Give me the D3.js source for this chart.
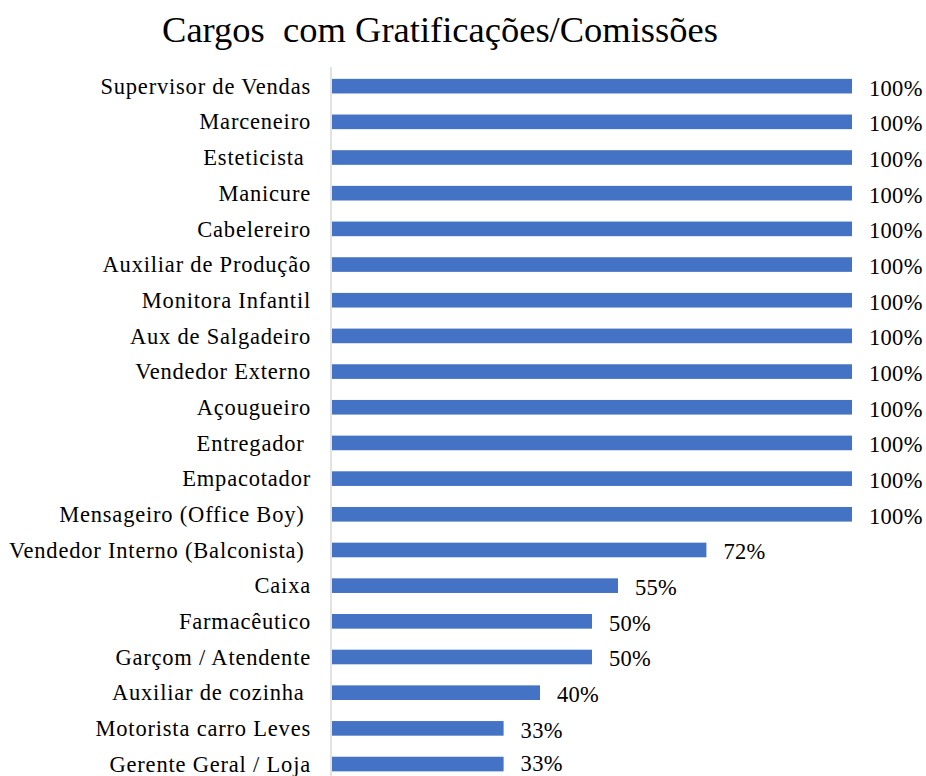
<!DOCTYPE html>
<html>
<head>
<meta charset="utf-8">
<script src="https://cdn.jsdelivr.net/npm/d3@7"></script>
<style>
  html, body { margin: 0; padding: 0; background: #ffffff; }
  svg { display: block; }
  svg text { white-space: pre; font-family: "Liberation Serif", "Times New Roman", Times, "DejaVu Serif", serif; }
</style>
</head>
<body>
<script>
const title = "Cargos  com Gratificações/Comissões";
const categories = [
  "Supervisor de Vendas",
  "Marceneiro",
  "Esteticista ",
  "Manicure",
  "Cabelereiro",
  "Auxiliar de Produção",
  "Monitora Infantil",
  "Aux de Salgadeiro",
  "Vendedor Externo",
  "Açougueiro",
  "Entregador ",
  "Empacotador",
  "Mensageiro (Office Boy) ",
  "Vendedor Interno (Balconista) ",
  "Caixa",
  "Farmacêutico",
  "Garçom / Atendente",
  "Auxiliar de cozinha ",
  "Motorista carro Leves",
  "Gerente Geral / Loja"
];
const values = [1, 1, 1, 1, 1, 1, 1, 1, 1, 1, 1, 1, 1, 0.72, 0.55, 0.50, 0.50, 0.40, 0.33, 0.33];

const W = 926, H = 776;
const svg = d3.select("body").append("svg")
  .attr("width", W).attr("height", H)
  .attr("xmlns", "http://www.w3.org/2000/svg");

const x = d3.scaleLinear().domain([0, 1]).range([332, 852]);
const y = d3.scaleBand().domain(categories).range([61, 789.2])
  .paddingInner(0.59).paddingOuter(0.5);

// Title
svg.append("text")
  .attr("x", 440).attr("y", 42)
  .attr("text-anchor", "middle")
  .style("font-size", "36.5px")
  .attr("fill", "#000")
  .text(title);

// Bars
svg.append("g").selectAll("rect")
  .data(categories)
  .join("rect")
  .attr("x", x(0))
  .attr("y", d => y(d))
  .attr("width", (d, i) => x(values[i]) - x(0))
  .attr("height", y.bandwidth())
  .attr("fill", "#4472C4");

// Axis (vertical line with category labels)
const axis = d3.axisLeft(y).tickSize(0).tickPadding(20);
const ag = svg.append("g")
  .attr("transform", `translate(${x(0) - 1},0)`)
  .call(axis);
ag.select(".domain").remove();
ag.attr("font-family", null);
ag.selectAll("text")
  .style("font-size", "22.5px")
  .style("letter-spacing", "0.8px")
  .attr("fill", "#000")
  .attr("dy", "0.34em");

svg.append("line")
  .attr("x1", x(0) - 1).attr("x2", x(0) - 1)
  .attr("y1", 67).attr("y2", H)
  .attr("stroke", "#d9d9d9").attr("stroke-width", 1.5);

// Value labels
svg.append("g").selectAll("text")
  .data(categories)
  .join("text")
  .attr("x", (d, i) => x(values[i]) + 17)
  .attr("y", d => Math.min(y(d) + y.bandwidth() / 2, 762))
  .attr("dy", "0.42em")
  .style("font-size", "22.5px")
  .style("letter-spacing", "0.3px")
  .attr("fill", "#000")
  .text((d, i) => d3.format(".0%")(values[i]));
</script>
</body>
</html>
